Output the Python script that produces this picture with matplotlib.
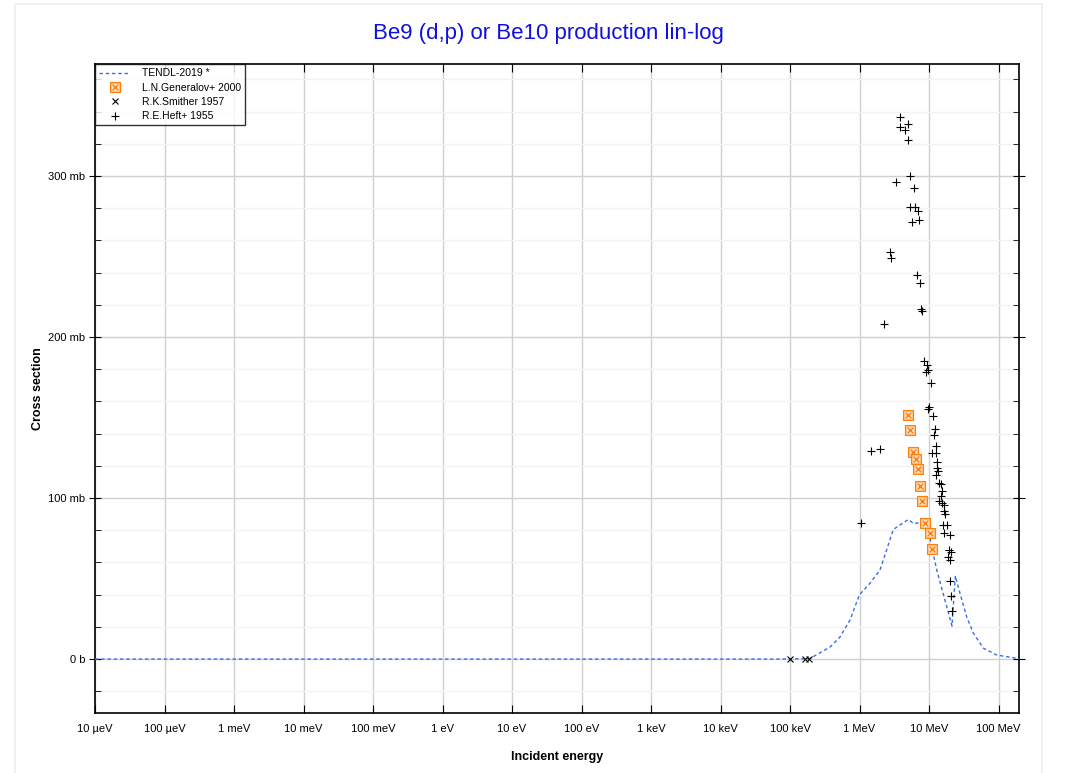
import numpy as np
import matplotlib
matplotlib.use("Agg")
import matplotlib.pyplot as plt
from matplotlib.path import Path
from matplotlib.patches import Rectangle
from matplotlib.ticker import FixedLocator, MultipleLocator

plt.rcParams['font.family'] = ['Liberation Sans', 'DejaVu Sans']

# ---------------- data ----------------
# TENDL-2019 evaluation (energy in MeV, cross section in mb)
tendl_E = [1e-11, 1e-6, 1e-3, 0.0717, 0.188, 0.214, 0.377, 0.524, 0.730, 0.993,
           1.42, 1.97, 2.20, 3.06, 5.04, 5.94, 8.11, 9.77, 12.9, 18.0, 21.4,
           23.9, 27.9, 34.9, 43.4, 60.4, 94.2, 200.0]
tendl_xs = [0.0, 0.0, 0.0, 0.0, 0.3, 1.4, 7.5, 13.7, 24.2, 39.8,
            47.2, 55.3, 61.5, 80.5, 86.7, 84.3, 84.7, 80.1, 55.3, 32.5, 20.5,
            51.7, 40.8, 26.1, 16.1, 6.8, 2.5, 0.2]

# L.N.Generalov+ 2000
gen_E = [4.94, 5.38, 5.94, 6.44, 6.88, 7.42, 7.93, 8.85, 10.3, 10.9]
gen_xs = [151.4, 142.2, 128.4, 124.2, 118.2, 107.5, 98.0, 84.5, 78.3, 68.3]

# R.K.Smither 1957
smi_E = [0.100, 0.166, 0.190]
smi_xs = [0.0, 0.0, 0.0]

# R.E.Heft+ 1955
heft_E = [3.79, 4.99, 3.86, 4.52, 4.94, 5.28, 3.38, 6.03, 5.38, 6.23,
          6.88, 5.64, 7.25, 2.75, 2.87, 6.79, 7.35, 7.67, 8.01, 2.27,
          8.56, 9.46, 9.77, 9.14, 10.7, 10.1, 9.68, 11.4, 12.1, 11.8,
          12.6, 11.2, 12.5, 1.48, 1.99, 13.0, 13.2, 13.6, 12.7, 14.1,
          14.9, 15.5, 14.7, 13.9, 15.2, 16.6, 16.3, 16.8, 1.04, 15.9,
          18.2, 16.6, 19.9, 19.2, 20.7, 18.8, 20.2, 19.9, 20.7, 21.4]
heft_xs = [336.5, 332.5, 330.6, 328.4, 322.2, 300.2, 296.5, 292.4, 280.6, 280.6,
           278.4, 271.2, 272.5, 252.6, 249.3, 238.5, 233.4, 217.2, 216.1, 208.3,
           185.3, 182.4, 179.3, 178.3, 171.4, 156.3, 155.5, 151.1, 142.7, 139.1,
           132.5, 128.1, 128.1, 129.2, 130.2, 122.2, 118.8, 117.0, 114.5, 109.5,
           108.5, 104.3, 101.2, 98.3, 97.1, 95.7, 91.9, 89.9, 84.3, 83.4,
           83.4, 78.3, 76.8, 67.7, 66.3, 63.2, 61.3, 48.3, 39.1, 30.0]

x_tick_labels = ["10 µeV", "100 µeV", "1 meV", "10 meV", "100 meV", "1 eV", "10 eV",
                 "100 eV", "1 keV", "10 keV", "100 keV", "1 MeV", "10 MeV", "100 MeV"]
y_tick_values = [0, 100, 200, 300]
y_tick_labels = ["0 b", "100 mb", "200 mb", "300 mb"]

title = "Be9 (d,p) or Be10 production lin-log"

# ---------------- figure ----------------
fig = plt.figure(figsize=(10.67, 7.73), dpi=100)
fig.patches.append(Rectangle((15 / 1067, -0.01), (1042 - 15) / 1067, 1 - 4 / 773 + 0.01,
                             transform=fig.transFigure, facecolor='white',
                             edgecolor='#eeeeee', linewidth=1.2, zorder=-10))
ax = fig.add_axes([95 / 1067, 1 - 713 / 773, (1019 - 95) / 1067, (713 - 64) / 773])

to_eV = lambda arr: np.asarray(arr) * 1e6

ax.plot(to_eV(tendl_E), tendl_xs, color='#3a6ee8', linestyle=(0, (2.5, 2.0)), linewidth=1.0,
        label='TENDL-2019 *', zorder=3)

box_x = Path([(-1, -1), (1, -1), (1, 1), (-1, 1), (-1, -1),
              (-0.6, -0.6), (0.6, 0.6), (-0.6, 0.6), (0.6, -0.6)],
             [Path.MOVETO, Path.LINETO, Path.LINETO, Path.LINETO, Path.CLOSEPOLY,
              Path.MOVETO, Path.LINETO, Path.MOVETO, Path.LINETO])
ax.plot(to_eV(gen_E), gen_xs, linestyle='none', marker=box_x, markersize=7,
        markerfacecolor='#ffe2c4', markeredgecolor='#ff7f0e', markeredgewidth=1.0,
        label='L.N.Generalov+ 2000', zorder=4)
ax.plot(to_eV(smi_E), smi_xs, linestyle='none', marker='x', markersize=4.5,
        color='black', markeredgewidth=0.8, label='R.K.Smither 1957', zorder=5)
ax.plot(to_eV(heft_E), heft_xs, linestyle='none', marker='+', markersize=6,
        color='black', markeredgewidth=0.8, label='R.E.Heft+ 1955', zorder=5)

ax.set_xscale('log')
ax.set_xlim(1e-5, 1.97e8)
ax.set_ylim(-33.5, 369.6)

xt = [10.0 ** k for k in range(-5, 9)]
ax.set_xticks(xt)
ax.set_xticklabels(x_tick_labels)
ax.xaxis.set_minor_locator(FixedLocator([]))
ax.set_yticks(y_tick_values)
ax.set_yticklabels(y_tick_labels)
ax.yaxis.set_minor_locator(MultipleLocator(20))

ax.grid(True, which='major', color='#d0d0d0', linewidth=1.0)
ax.grid(True, which='minor', axis='y', color='#f3f3f3', linewidth=1.0)
ax.set_axisbelow(True)

ax.tick_params(axis='both', which='both', labelsize=8, colors='black')
ax.tick_params(axis='x', which='major', direction='in', length=6, top=True, pad=8)
ax.tick_params(axis='y', which='major', direction='inout', length=8, right=True, pad=3)
ax.tick_params(axis='y', which='minor', direction='in', length=4, right=True)
for s in ax.spines.values():
    s.set_linewidth(1.2)
    s.set_color('black')

ax.set_xlabel('Incident energy', fontsize=9, fontweight='bold', labelpad=12)
ax.set_ylabel('Cross section', fontsize=9, fontweight='bold', labelpad=3)
fig.text(548 / 1067, 1 - 33 / 773, title, color='#1010e0', fontsize=16,
         ha='center', va='center')

leg = ax.legend(loc='upper left', fontsize=7.5, frameon=True, fancybox=False,
                edgecolor='black', borderaxespad=0, handlelength=3.0,
                labelspacing=0.42, borderpad=0.4, handletextpad=1.1)
leg.get_frame().set_linewidth(1.0)

fig.savefig('out.png', dpi=100)
